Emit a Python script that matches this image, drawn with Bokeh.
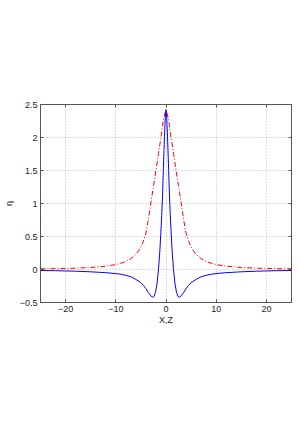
from bokeh.plotting import figure
from bokeh.models import Range1d, LinearAxis, FixedTicker
from bokeh.embed import file_html
from bokeh.resources import INLINE

# ---- data ----
x_blue = [-25, -22, -20, -18, -15, -12, -10, -9, -8, -7, -6, -5, -4.5, -4, -3.5, -3, -2.7, -2.4,
          -2.1, -1.8, -1.5, -1.25, -1.05, -0.85, -0.7, -0.53, -0.4, -0.3, -0.2, -0.1, 0,
          0.1, 0.2, 0.3, 0.4, 0.53, 0.7, 0.85, 1.05, 1.25, 1.5, 1.8, 2.1, 2.4, 2.7, 3, 3.5,
          4, 4.5, 5, 6, 7, 8, 9, 10, 12, 15, 18, 20, 22, 25]
eta_blue = [-0.015, -0.018, -0.022, -0.026, -0.035, -0.048, -0.062, -0.072, -0.088, -0.11, -0.15,
            -0.2, -0.24, -0.29, -0.35, -0.40, -0.42, -0.41, -0.35, -0.22, 0.0, 0.25, 0.52, 0.82,
            1.1, 1.5, 1.8, 2.02, 2.2, 2.36, 2.42,
            2.36, 2.2, 2.02, 1.8, 1.5, 1.1, 0.82, 0.52, 0.25, 0.0, -0.22, -0.35, -0.41, -0.42,
            -0.40, -0.35, -0.29, -0.24, -0.2, -0.15, -0.11, -0.088, -0.072, -0.062, -0.048,
            -0.035, -0.026, -0.022, -0.018, -0.015]

x_red = [-25, -22, -20, -18, -15, -12, -10, -9, -8, -7, -6, -5.5, -5, -4.5, -4, -3.5, -3, -2.5,
         -2, -1.5, -1, -0.5, 0, 0.5, 1, 1.5, 2, 2.5, 3, 3.5, 4, 4.5, 5, 5.5, 6, 7, 8, 9, 10,
         12, 15, 18, 20, 22, 25]
eta_red = [0.01, 0.013, 0.016, 0.02, 0.03, 0.05, 0.075, 0.095, 0.12, 0.165, 0.23, 0.28, 0.34,
           0.43, 0.55, 0.76, 1.02, 1.26, 1.5, 1.76, 2.0, 2.28, 2.42, 2.28, 2.0, 1.76, 1.5, 1.26,
           1.02, 0.76, 0.55, 0.43, 0.34, 0.28, 0.23, 0.165, 0.12, 0.095, 0.075, 0.05, 0.03,
           0.02, 0.016, 0.013, 0.01]

x_ticks = [-20, -10, 0, 10, 20]
x_tick_labels = ["\u221220", "\u221210", "0", "10", "20"]
y_ticks = [-0.5, 0, 0.5, 1, 1.5, 2, 2.5]
y_tick_labels = ["\u22120.5", "0", "0.5", "1", "1.5", "2", "2.5"]

FONT = "Liberation Sans"
AX = "#555555"
TXT = "#222222"

p = figure(frame_width=251, frame_height=198, output_backend="svg", toolbar_location=None,
           x_range=Range1d(-25, 25), y_range=Range1d(-0.5, 2.5),
           min_border_left=33, min_border_right=4, min_border_top=104, min_border_bottom=30)
p.background_fill_color = "white"
p.border_fill_color = "white"
p.outline_line_color = AX
p.outline_line_width = 1

p.line(x_red, eta_red, line_color="red", line_width=1, line_dash="5 2 1 2")
p.line(x_blue, eta_blue, line_color="blue", line_width=1)

bottom = p.below[0]
left = p.left[0]

bottom.ticker = FixedTicker(ticks=x_ticks)
bottom.major_label_overrides = dict(zip(x_ticks, x_tick_labels))
bottom.axis_label = "X,Z"
left.ticker = FixedTicker(ticks=y_ticks)
left.major_label_overrides = dict(zip(y_ticks, y_tick_labels))
left.axis_label = "\u03b7"

top = LinearAxis(ticker=FixedTicker(ticks=x_ticks), major_label_text_alpha=0,
                 major_label_text_font_size="1px", major_label_standoff=0)
right = LinearAxis(ticker=FixedTicker(ticks=y_ticks), major_label_text_alpha=0,
                   major_label_text_font_size="1px", major_label_standoff=0)
p.add_layout(top, "above")
p.add_layout(right, "right")

for ax in [bottom, left, top, right]:
    ax.axis_line_color = AX
    ax.major_tick_line_color = AX
    ax.major_tick_in = 3
    ax.major_tick_out = 0
    ax.minor_tick_line_color = None

for ax in [bottom, left]:
    ax.major_label_text_font = FONT
    ax.major_label_text_font_size = "9px"
    ax.major_label_text_color = TXT
    ax.axis_label_text_font = FONT
    ax.axis_label_text_font_size = "9px"
    ax.axis_label_text_font_style = "normal"
    ax.axis_label_text_color = TXT
    ax.major_label_standoff = 3
bottom.axis_label_standoff = 0
left.axis_label_standoff = 3

p.xgrid.ticker = FixedTicker(ticks=x_ticks)
p.ygrid.ticker = FixedTicker(ticks=y_ticks)
for g in (p.xgrid, p.ygrid):
    g.grid_line_color = "#bbbbbb"
    g.grid_line_dash = "1 2"
    g.grid_line_width = 1

open("out.html", "w").write(file_html(p, INLINE))
